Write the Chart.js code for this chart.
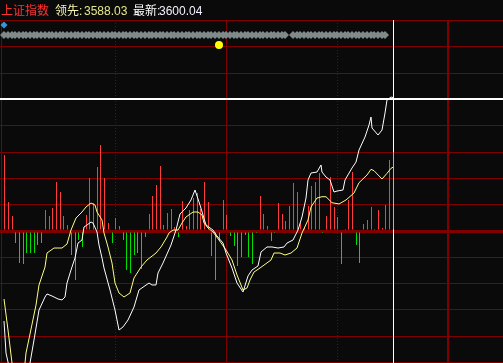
<!DOCTYPE html>
<html>
<head>
<meta charset="utf-8">
<script src="https://cdn.jsdelivr.net/npm/chart.js@4.4.1/dist/chart.umd.min.js"></script>
<style>
    html, body { margin: 0; padding: 0; background: #0a0a0a; }
    canvas { display: block; }
</style>
</head>
<body>
<canvas id="tickChart" width="503" height="363"></canvas>
<script>
const indexName = "上证指数";
const prevClose = 3577.06;

// 最新 (white line): minute of session, price
const priceMinutes = [0, 1, 4, 8, 12, 14, 16, 19, 22, 23, 26, 29, 31, 33, 34, 36, 38, 40, 42, 43,
    45, 47, 48, 50, 51, 53, 54, 57, 60, 62, 64, 67, 70, 73, 78, 80, 82, 83, 86, 88,
    90, 93, 95, 98, 101, 103, 106, 109, 113, 115, 118, 120, 123, 126, 129, 132, 134, 137, 139, 142,
    145, 148, 151, 153, 156, 159, 161, 163, 164, 166, 169, 171, 172, 174, 176, 178, 180, 183, 184, 188,
    190, 192, 195, 197, 198, 199, 202, 204, 206, 207, 209, 210];
const priceValues = [3561.57, 3556.06, 3551.42, 3549.35, 3551.42, 3554.34, 3558.30, 3563.46, 3565.70, 3566.22,
    3565.87, 3565.36, 3565.19, 3565.70, 3568.11, 3570.35, 3572.41, 3574.99, 3575.51, 3577.75,
    3578.09, 3578.61, 3578.44, 3576.89, 3574.65, 3572.41, 3570.69, 3566.91, 3563.46, 3560.02,
    3560.54, 3561.74, 3563.98, 3566.91, 3568.11, 3567.77, 3567.77, 3569.83, 3571.55, 3573.10,
    3574.65, 3577.23, 3579.99, 3581.02, 3582.40, 3584.12, 3581.53, 3578.09, 3577.23, 3576.20,
    3574.99, 3573.27, 3570.69, 3568.11, 3566.56, 3569.32, 3570.35, 3571.04, 3573.45, 3574.31,
    3574.31, 3574.13, 3574.31, 3574.99, 3575.51, 3577.23, 3579.47, 3582.74, 3585.84, 3587.04,
    3587.21, 3588.42, 3587.21, 3586.35, 3585.84, 3583.77, 3583.94, 3584.12, 3585.84, 3587.90,
    3588.93, 3591.00, 3593.24, 3595.30, 3596.68, 3594.79, 3593.58, 3594.44, 3597.37, 3599.61,
    3600.12, 3600.04];

// 领先 (yellow line)
const leadMinutes = [0, 2, 4, 7, 11, 12, 14, 17, 19, 22, 23, 27, 31, 34, 36, 39, 42, 44, 47, 49,
    50, 53, 54, 56, 58, 60, 62, 65, 68, 70, 74, 77, 82, 85, 88, 89, 91, 94, 96, 98,
    102, 105, 107, 108, 110, 113, 116, 120, 123, 126, 129, 131, 133, 135, 138, 144, 146, 149, 152, 155,
    158, 161, 164, 166, 169, 172, 174, 177, 181, 185, 189, 192, 196, 198, 200, 204, 207, 209, 210];
const leadValues = [3565.36, 3560.02, 3554.34, 3552.28, 3554.34, 3556.06, 3559.33, 3564.32, 3567.77, 3570.86,
    3573.27, 3574.13, 3574.13, 3574.82, 3577.23, 3579.30, 3580.33, 3581.19, 3581.88, 3581.53,
    3580.33, 3578.95, 3576.72, 3574.31, 3571.55, 3568.11, 3566.39, 3565.70, 3566.39, 3568.97,
    3570.86, 3572.07, 3573.27, 3574.31, 3576.03, 3576.72, 3577.23, 3577.23, 3578.44, 3579.47,
    3580.33, 3580.33, 3579.81, 3578.44, 3577.58, 3576.89, 3575.51, 3573.79, 3572.07, 3569.49,
    3566.91, 3567.25, 3568.63, 3570.00, 3570.69, 3572.07, 3573.27, 3573.27, 3572.93, 3573.27,
    3574.13, 3576.72, 3578.95, 3581.19, 3582.74, 3582.96, 3582.96, 3581.93, 3581.71, 3582.40,
    3583.60, 3585.37, 3586.70, 3587.68, 3587.44, 3586.01, 3586.99, 3587.85, 3588.03];

// buy / sell strength bars, one every 2 minutes
const flowMinutes = [0, 2, 4, 6, 8, 10, 12, 14, 16, 18, 20, 22, 24, 26, 28, 30, 32, 34, 36, 38,
    40, 42, 44, 46, 48, 50, 52, 54, 56, 58, 60, 62, 64, 66, 68, 70, 72, 74, 76, 78,
    80, 82, 84, 86, 88, 90, 92, 94, 96, 98, 100, 102, 104, 106, 108, 110, 112, 114, 116, 118,
    120, 122, 124, 126, 128, 130, 132, 134, 136, 138, 140, 142, 144, 146, 148, 150, 152, 154, 156, 158,
    160, 162, 164, 166, 168, 170, 172, 174, 176, 178, 180, 182, 184, 186, 188, 190, 192, 194, 196, 198,
    200, 202, 204, 206, 208, 210];
const flowValues = [76, 29, 15, -12, -32, -33, -22, -22, -22, -14,
    -12, 21, 15, 23, 49, 39, 15, 6, -24, -49,
    -9, -16, 16, 53, 28, 64, 86, 53, 8, -12,
    13, 5, -9, -39, -42, -24, -22, -38, -6, 17,
    35, 46, 65, 6, 18, 22, 4, -6, 30, 5,
    21, 33, 38, 22, 49, 29, -25, -49, -10, 31,
    16, -5, -15, -35, -26, -4, -26, -33, -2, 35,
    17, 5, -10, -2, 28, 17, 10, 25, 48, 39,
    8, 3, 25, 45, 49, 58, -2, 15, 54, 24,
    14, -33, 2, 31, 59, -14, -32, 7, 11, 24,
    2, 21, 3, 26, 71, 79];

// signal row (grey diamonds), first marker and alert dot
const signalMinutes = [0, 2, 4, 6, 8, 10, 12, 14, 16, 18, 20, 22, 24, 26, 28, 30, 32, 34, 36, 38,
    40, 42, 44, 46, 48, 50, 52, 54, 56, 58, 60, 62, 64, 66, 68, 70, 72, 74, 76, 78,
    80, 82, 84, 86, 88, 90, 92, 94, 96, 98, 100, 102, 104, 106, 108, 110, 112, 114, 116, 118,
    120, 122, 124, 126, 128, 130, 132, 134, 136, 138, 140, 142, 144, 146, 148, 150, 152, 156, 158,
    160, 162, 164, 166, 168, 170, 172, 174, 176, 178, 180, 182, 184, 186, 188, 190, 192, 194, 196, 198,
    200, 202, 204, 206];
const startMinute = 0;
const alertMinute = 116;
const cursorMinute = 210;

// hour lines: 10:30, 11:30/13:00, 14:00, 15:00
const sessionTicks = [60, 120, 180, 240];
const frameMinute = -1.62;
// horizontal grid levels on the bar axis
const gridLevels = [-131.5, -105.2, -78.9, -52.6, -26.3, 0, 26.3, 52.6, 78.9, 105.2, 131.5, 157.8, 184.1, 211];

const RED = "#ff3c3c";
const GREEN = "#00e000";
const GRID = "#800000";

const pairs = (xs, ys) => xs.map((x, i) => ({ x: x, y: ys[i] }));

// thin bars land on whole pixels
const barNudge = {
    id: "barNudge",
    beforeDatasetDraw(chart, args) {
        if (args.meta.type === "bar") {
            chart.ctx.save();
            chart.ctx.translate(0.5, 0);
        }
    },
    afterDatasetDraw(chart, args) {
        if (args.meta.type === "bar") chart.ctx.restore();
    }
};

const cursorLines = {
    id: "cursorLines",
    beforeDatasetsDraw(chart) {
        const { ctx, chartArea: a, scales } = chart;
        const cx = Math.round(scales.x.getPixelForValue(cursorMinute)) + 0.5;
        const cy = Math.round(scales.y.getPixelForValue(priceValues[priceValues.length - 1])) + 1;
        ctx.save();
        ctx.strokeStyle = "#ffffff";
        ctx.lineWidth = 1;
        ctx.beginPath();
        ctx.moveTo(cx, a.top);
        ctx.lineTo(cx, a.bottom);
        ctx.stroke();
        ctx.lineWidth = 2;
        ctx.beginPath();
        ctx.moveTo(a.left, cy);
        ctx.lineTo(a.right, cy);
        ctx.stroke();
        ctx.restore();
    }
};

const header = {
    id: "header",
    afterDraw(chart) {
        const ctx = chart.ctx;
        ctx.save();
        ctx.font = '12px "Liberation Sans", "Noto Sans CJK SC", sans-serif';
        const parts = [
            [indexName, "#ff3232", 1],
            ["领先:", "#f4f4b0", 55],
            [leadValues[leadValues.length - 1].toFixed(2), "#e6e68c", 84],
            ["最新:", "#ffffff", 133],
            [priceValues[priceValues.length - 1].toFixed(2), "#f4f0ff", 159]
        ];
        parts.forEach(([text, color, x]) => {
            ctx.fillStyle = color;
            ctx.fillText(text, x, 15);
        });
        ctx.restore();
    }
};

new Chart(document.getElementById("tickChart"), {
    type: "bar",
    data: {
        datasets: [
            {
                type: "line",
                label: "最新",
                data: pairs(priceMinutes, priceValues),
                yAxisID: "y",
                borderColor: "#ffffff",
                borderWidth: 1,
                pointRadius: 0,
                tension: 0
            },
            {
                type: "line",
                label: "领先",
                data: pairs(leadMinutes, leadValues),
                yAxisID: "y",
                borderColor: "#ffff80",
                borderWidth: 1,
                pointRadius: 0,
                tension: 0
            },
            {
                type: "bar",
                label: "力道",
                data: pairs(flowMinutes, flowValues),
                yAxisID: "yb",
                barThickness: 1,
                inflateAmount: 0,
                borderWidth: 0,
                // the cursor line xors the bar under it to cyan
                backgroundColor: ctx => ctx.raw.x === cursorMinute ? "#00ffff" : (ctx.raw.y >= 0 ? RED : GREEN)
            },
            {
                type: "scatter",
                label: "信号",
                data: signalMinutes.map(m => ({ x: m, y: 1 })),
                yAxisID: "ys",
                pointStyle: "rectRot",
                pointRadius: 4,
                pointBackgroundColor: "#808a8a",
                pointBorderWidth: 0
            },
            {
                type: "scatter",
                data: [{ x: startMinute, y: 2 }],
                yAxisID: "ys",
                pointStyle: "rectRot",
                pointRadius: 3.5,
                pointBackgroundColor: "#3399dd",
                pointBorderWidth: 0
            },
            {
                type: "scatter",
                data: [{ x: alertMinute, y: 0 }],
                yAxisID: "ys",
                pointStyle: "circle",
                pointRadius: 4,
                pointBackgroundColor: "#ffff00",
                pointBorderWidth: 0
            }
        ]
    },
    options: {
        responsive: false,
        animation: false,
        devicePixelRatio: 1,
        events: [],
        layout: { autoPadding: false, padding: { top: 20, left: 0, right: 0, bottom: 0 } },
        plugins: {
            legend: { display: false },
            tooltip: { enabled: false }
        },
        scales: {
            x: {
                type: "linear",
                min: -2.27,
                max: 269.62,
                offset: false,
                alignToPixels: true,
                ticks: { display: false },
                grid: {
                    offset: false,
                    drawTicks: false,
                    color: GRID,
                    lineWidth: c => (c.tick && c.tick.value === 240) ? 2 : 1
                },
                border: {
                    display: false,
                    dash: c => (c.tick && (c.tick.value === 60 || c.tick.value === 180)) ? [1, 2] : []
                },
                afterBuildTicks: s => {
                    s.ticks = [frameMinute, ...sessionTicks].map(v => ({ value: v }));
                }
            },
            yb: {
                type: "linear",
                position: "left",
                min: -132,
                max: 211,
                ticks: { display: false },
                grid: {
                    drawTicks: false,
                    color: GRID,
                    lineWidth: c => (c.tick && c.tick.value === 0) ? 3 : 1
                },
                border: { display: false },
                afterBuildTicks: s => {
                    s.ticks = gridLevels.map(v => ({ value: v }));
                }
            },
            y: {
                type: "linear",
                display: false,
                min: prevClose - 22.72,
                max: prevClose + 36.32
            },
            ys: {
                type: "linear",
                display: false,
                min: -31.8,
                max: 2.5
            }
        }
    },
    plugins: [barNudge, cursorLines, header]
});
</script>
</body>
</html>
